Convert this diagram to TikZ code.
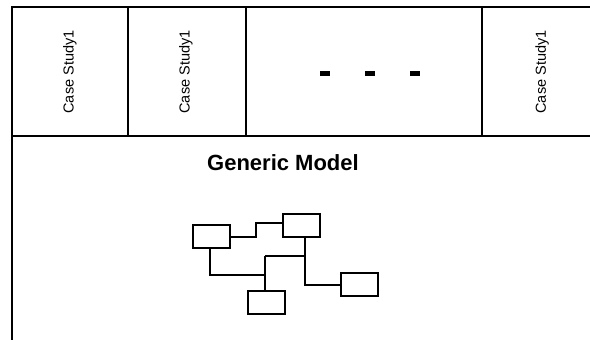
\documentclass[tikz,border=0pt]{standalone}
\usepackage{fontspec}
\setmainfont{Liberation Sans}
\begin{document}
\begin{tikzpicture}[x=1pt,y=-1pt,
  frame/.style={line width=2pt},
  link/.style={line width=2pt},
  cbox/.style={draw,line width=2pt,minimum width=37pt,minimum height=23pt,inner sep=0pt},
  cslabel/.style={rotate=90,font=\fontsize{14.5}{14.5}\selectfont,inner sep=0pt},
  dashmark/.style={fill=black,minimum width=10pt,minimum height=5pt,inner sep=0pt}]
\useasboundingbox (0,0) rectangle (590,340);
% frame
\draw[frame] (12,342) -- (12,7) -- (592,7);
\draw[frame] (12,136) -- (592,136);
\draw[frame] (128,7) -- (128,136);
\draw[frame] (246,7) -- (246,136);
\draw[frame] (482,7) -- (482,136);
% labels
\node[cslabel] (cs1) at (70,72) {Case Study1};
\node[cslabel] (cs2) at (186,72) {Case Study1};
\node[cslabel] (cs3) at (542,72) {Case Study1};
\node[dashmark] (d1) at (325,73) {};
\node[dashmark] (d2) at (370,73) {};
\node[dashmark] (d3) at (415,73) {};
\node[font=\bfseries\fontsize{22}{22}\selectfont] (gm) at (283,163) {Generic Model};
% model
\node[cbox] (a) at (211.5,236.5) {};
\node[cbox] (b) at (301,225.5) {};
\node[cbox] (c) at (266.5,302.5) {};
\node[cbox] (d) at (359.5,284.5) {};
\coordinate (j1) at (265,275);
\coordinate (j2) at (265,256);
\coordinate (j3) at (305,256);
\draw[link] (a.east) -- (256,236.5) -- (256,223) -- (b.west |- 0,223);
\draw[link] (a.south -| 210,0) -- (210,275) -- (j1);
\draw[link] (j2) -- (c.north -| j2);
\draw[link] (j2) -- (j3);
\draw[link] (b.south -| 305,0) -- (305,284.5) -- (d.west);
\end{tikzpicture}
\end{document}
